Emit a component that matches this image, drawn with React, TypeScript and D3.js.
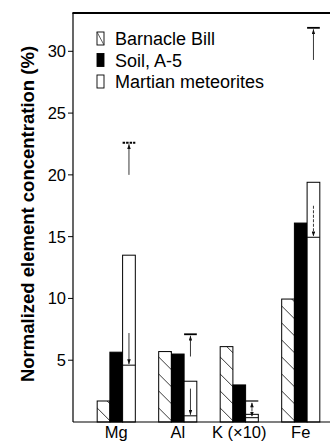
import React from 'react';
import * as d3 from 'd3';

const categories = ['Mg', 'Al', 'K (×10)', 'Fe'];
const seriesNames = ['Barnacle Bill', 'Soil, A-5', 'Martian meteorites'];
const barnacleBill = [1.7, 5.7, 6.1, 9.95];
const soilA5 = [5.65, 5.5, 3.0, 16.1];
const meteorites = [13.5, 3.3, 0.62, 19.4];
const meteoriteLow = [4.6, 0.5, 0.35, 14.95];
const downArrowFrom = [7.2, 2.7, 1.1, 17.5];
const upperLimit = [22.6, 7.1, 1.7, 31.9];
const upArrowFrom = [20.0, 5.3, 1.1, 29.3];
const yTicks = [5, 10, 15, 20, 25, 30];

const W = 330;
const H = 441;
const FONT = '"Liberation Sans", Arial, Helvetica, sans-serif';

const App: React.FC = () => {
  const left = 73;
  const right = 331;
  const top = 13;
  const bottom = 422;

  const y = d3.scaleLinear().domain([0, 33.1]).range([bottom, top]);
  const x = d3
    .scaleBand<string>()
    .domain(categories)
    .range([85.5, 331.5])
    .paddingInner(0.38)
    .paddingOuter(0.19);
  const sub = d3.scaleBand<string>().domain(seriesNames).range([0, x.bandwidth()]);
  const bw = sub.bandwidth();
  const mx = sub(seriesNames[2]) ?? 0;

  const fills = ['url(#hatch)', '#000', '#fff'];
  const values = [barnacleBill, soilA5, meteorites];

  return (
    <svg
      width={W}
      height={H}
      style={{ position: 'absolute', left: 0, top: 0, background: '#fff' }}
      fontFamily={FONT}
    >
      <defs>
        <pattern id="hatch" patternUnits="userSpaceOnUse" width={17} height={17}>
          <rect width={17} height={17} fill="#fff" />
          <path d="M-2,-2 L19,19 M-19,-2 L2,19 M15,-2 L36,19" stroke="#222" strokeWidth={0.9} />
        </pattern>
        <marker id="headUp" viewBox="0 0 6 8" refX={3} refY={0} markerWidth={4} markerHeight={6} orient="0">
          <path d="M0,8 L3,0 L6,8 z" fill="#111" />
        </marker>
        <marker id="headDown" viewBox="0 0 6 8" refX={3} refY={8} markerWidth={4} markerHeight={6} orient="0">
          <path d="M0,0 L3,8 L6,0 z" fill="#111" />
        </marker>
      </defs>

      {/* bars */}
      {categories.map((c, i) => (
        <g key={c} transform={`translate(${x(c)},0)`}>
          {seriesNames.map((s, j) => (
            <rect
              key={s}
              x={sub(s)}
              y={y(values[j][i])}
              width={bw}
              height={y(0) - y(values[j][i])}
              fill={fills[j]}
              stroke="#000"
              strokeWidth={1}
            />
          ))}
          {/* lower value line inside meteorite bar */}
          <line x1={mx} x2={mx + bw} y1={y(meteoriteLow[i])} y2={y(meteoriteLow[i])} stroke="#000" strokeWidth={1} />
          {/* down arrow */}
          <line
            x1={mx + bw / 2}
            x2={mx + bw / 2}
            y1={y(downArrowFrom[i])}
            y2={y(meteoriteLow[i]) - 1}
            stroke="#222"
            strokeWidth={0.9}
            strokeDasharray={i >= 2 ? '3,1.5' : undefined}
            markerEnd="url(#headDown)"
          />
          {/* upper limit */}
          <line
            x1={mx}
            x2={mx + bw}
            y1={y(upperLimit[i])}
            y2={y(upperLimit[i])}
            stroke="#000"
            strokeWidth={i === 2 ? 1.2 : 1.8}
            strokeDasharray={i === 0 ? '2.5,1' : undefined}
          />
          <line
            x1={mx + bw / 2}
            x2={mx + bw / 2}
            y1={y(upArrowFrom[i])}
            y2={y(upperLimit[i]) + 1.5}
            stroke="#222"
            strokeWidth={0.9}
            strokeDasharray={i === 2 ? '2,1.5' : undefined}
            markerEnd="url(#headUp)"
          />
        </g>
      ))}

      {/* frame */}
      <line x1={left} x2={left} y1={top} y2={bottom} stroke="#000" strokeWidth={1.2} />
      <line x1={left - 0.6} x2={right} y1={top} y2={top} stroke="#000" strokeWidth={2} />
      <line x1={left} x2={right} y1={bottom} y2={bottom} stroke="#000" strokeWidth={1.2} />

      {/* y ticks */}
      {yTicks.map((t) => (
        <g key={t} transform={`translate(0,${y(t)})`}>
          <line x1={left - 5} x2={left} stroke="#000" strokeWidth={1} />
          <text x={left - 7} dy="0.36em" textAnchor="end" fontSize={16.5} fill="#000">
            {t}
          </text>
        </g>
      ))}

      {/* x labels */}
      {categories.map((c) => (
        <text
          key={c}
          x={(x(c) ?? 0) + x.bandwidth() / 2}
          y={437.5}
          textAnchor="middle"
          fontSize={16.5}
          fill="#000"
        >
          {c}
        </text>
      ))}

      {/* y title */}
      <text
        transform={`translate(34,${(45 + 383) / 2}) rotate(-90)`}
        textAnchor="middle"
        fontSize={18.5}
        fontWeight="bold"
        fill="#000"
      >
        Normalized element concentration (%)
      </text>

      {/* legend */}
      {seriesNames.map((s, j) => (
        <g key={s} transform={`translate(97,${32 + j * 21.5})`}>
          <rect width={7} height={13} fill={j === 1 ? '#000' : '#fff'} stroke="#000" strokeWidth={0.9} />
          {j === 0 && <line x1={0} y1={0} x2={7} y2={13} stroke="#333" strokeWidth={0.8} />}
          <text x={18} y={13} fontSize={18} fill="#000">
            {s}
          </text>
        </g>
      ))}
    </svg>
  );
};

export default App;
